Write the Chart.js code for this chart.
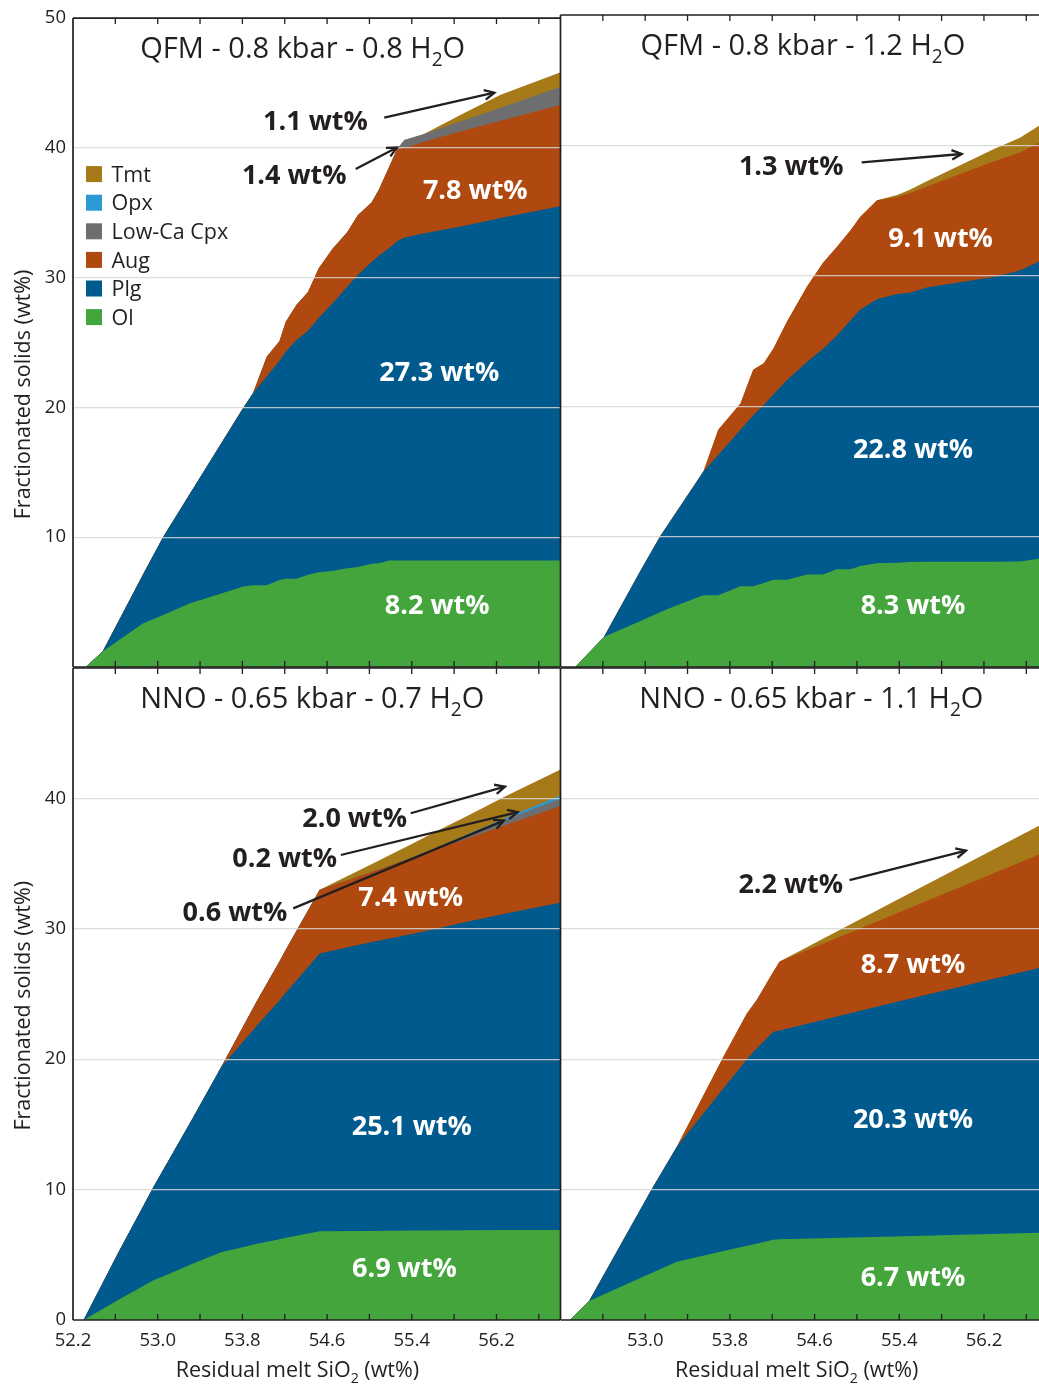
<!DOCTYPE html>
<html lang="en">
<head>
<meta charset="utf-8">
<title>Fractionated solids vs residual melt SiO2</title>
<script src="https://cdn.jsdelivr.net/npm/chart.js@4.4.1/dist/chart.umd.min.js"></script>
<style>
  html, body { margin: 0; padding: 0; background: #fff; }
  #figure { position: relative; width: 1039px; height: 1387px; overflow: hidden; background: #fff; }
  #figure canvas { position: absolute; left: 0; top: 0; }
</style>
</head>
<body>
<div id="figure">
  <canvas id="qfm08" width="1039" height="1387"></canvas>
  <canvas id="qfm12" width="1039" height="1387"></canvas>
  <canvas id="nno07" width="1039" height="1387"></canvas>
  <canvas id="nno11" width="1039" height="1387"></canvas>
</div>
<script>
// Fractionated phases (wt%) against residual melt SiO2 (wt%) for four runs.
// Each phase array holds the amount of that phase at the matching SiO2 step;
// the phases are stacked Ol -> Plg -> Aug -> Low-Ca Cpx -> Opx -> Tmt.

// QFM - 0.8 kbar - 0.8 H2O
const qfm08Sio2     = [52.32, 52.48, 52.86, 53.05, 53.30, 53.81, 53.90, 54.03, 54.15, 54.21, 54.31, 54.42, 54.52, 54.65, 54.79, 54.89, 55.02, 55.09, 55.19, 55.26, 55.33, 55.51, 55.90, 56.24, 56.80];
const qfm08Ol       = [0, 1.2, 3.35, 4.0, 4.9, 6.2, 6.3, 6.3, 6.7, 6.8, 6.8, 7.1, 7.3, 7.4, 7.6, 7.7, 7.95, 8.0, 8.2, 8.2, 8.2, 8.2, 8.2, 8.2, 8.2];
const qfm08Plg      = [0, 0, 3.75, 6.0, 8.4, 13.8, 14.8, 16.1, 16.9, 17.5, 18.4, 18.8, 19.6, 20.6, 21.7, 22.5, 23.25, 23.7, 24.1, 24.6, 24.9, 25.2, 25.8, 26.4, 27.3];
const qfm08Aug      = [0, 0, 0, 0, 0, 0, 0, 1.5, 1.5, 2.3, 2.7, 3.0, 3.8, 4.2, 4.2, 4.6, 4.6, 5.1, 6.3, 7.1, 6.9, 7.05, 7.35, 7.5, 7.8];
const qfm08LowCaCpx = [0, 0, 0, 0, 0, 0, 0, 0, 0, 0, 0, 0, 0, 0, 0, 0, 0, 0, 0, 0, 0.6, 0.6, 0.8, 1.0, 1.4];
const qfm08Tmt      = [0, 0, 0, 0, 0, 0, 0, 0, 0, 0, 0, 0, 0, 0, 0, 0, 0, 0, 0, 0, 0, 0, 0.55, 1.0, 1.1];

// QFM - 0.8 kbar - 1.2 H2O
const qfm12Sio2 = [52.34, 52.61, 52.95, 53.14, 53.23, 53.55, 53.69, 53.90, 54.02, 54.12, 54.21, 54.34, 54.53, 54.68, 54.81, 54.94, 55.03, 55.19, 55.38, 55.50, 55.66, 56.29, 56.54, 56.72];
const qfm12Ol   = [0, 2.3, 3.5, 4.2, 4.5, 5.5, 5.5, 6.2, 6.2, 6.45, 6.7, 6.7, 7.1, 7.1, 7.5, 7.5, 7.75, 7.95, 8.0, 8.05, 8.07, 8.07, 8.1, 8.3];
const qfm12Plg  = [0, 0, 3.8, 5.8, 6.6, 9.5, 10.75, 12.0, 13.1, 13.65, 14.2, 15.3, 16.3, 17.3, 17.9, 19.1, 19.65, 20.25, 20.6, 20.65, 21.03, 21.83, 22.3, 22.8];
const qfm12Aug  = [0, 0, 0, 0, 0, 0, 1.95, 2.0, 3.5, 3.2, 3.5, 4.5, 5.8, 6.6, 6.8, 6.9, 7.1, 7.6, 7.44, 7.64, 7.75, 8.87, 9.05, 9.1];
const qfm12Tmt  = [0, 0, 0, 0, 0, 0, 0, 0, 0, 0, 0, 0, 0, 0, 0, 0, 0, 0, 0.16, 0.26, 0.4, 0.93, 1.14, 1.3];

// NNO - 0.65 kbar - 0.7 H2O
const nno07Sio2     = [52.30, 52.63, 52.96, 53.10, 53.34, 53.60, 53.94, 54.15, 54.21, 54.53, 55.00, 55.40, 55.60, 55.90, 56.30, 56.80];
const nno07Ol       = [0, 1.55, 3.05, 3.5, 4.35, 5.2, 5.85, 6.2, 6.3, 6.8, 6.83, 6.86, 6.87, 6.88, 6.9, 6.9];
const nno07Plg      = [0, 3.65, 7.15, 8.7, 11.25, 14.2, 16.75, 18.3, 18.8, 21.3, 22.12, 22.74, 23.08, 23.62, 24.3, 25.1];
const nno07Aug      = [0, 0, 0, 0, 0, 0, 1.9, 3.0, 3.3, 4.9, 5.35, 5.85, 6.05, 6.35, 6.8, 7.4];
const nno07LowCaCpx = [0, 0, 0, 0, 0, 0, 0, 0, 0, 0, 0, 0, 0.1, 0.25, 0.42, 0.6];
const nno07Opx      = [0, 0, 0, 0, 0, 0, 0, 0, 0, 0, 0, 0, 0, 0.06, 0.13, 0.2];
const nno07Tmt      = [0, 0, 0, 0, 0, 0, 0, 0, 0, 0, 0.58, 1.05, 1.25, 1.39, 1.67, 2.0];

// NNO - 0.65 kbar - 1.1 H2O
const nno11Sio2 = [52.29, 52.47, 53.06, 53.30, 53.74, 53.96, 54.05, 54.21, 54.27, 55.35, 56.72];
const nno11Ol   = [0, 1.45, 3.6, 4.47, 5.3, 5.7, 5.85, 6.15, 6.2, 6.4, 6.7];
const nno11Plg  = [0, 0, 6.4, 8.83, 12.47, 14.3, 14.95, 15.95, 16.0, 17.95, 20.3];
const nno11Aug  = [0, 0, 0, 0, 2.43, 3.5, 3.7, 4.6, 5.3, 6.75, 8.7];
const nno11Tmt  = [0, 0, 0, 0, 0, 0, 0, 0, 0, 1.0, 2.2];

// Axis ticks
const sio2Ticks       = [52.2, 52.6, 53.0, 53.4, 53.8, 54.2, 54.6, 55.0, 55.4, 55.8, 56.2, 56.6];
const sio2LabelsLeft  = ['52.2', '53.0', '53.8', '54.6', '55.4', '56.2'];
const sio2LabelsRight = ['53.0', '53.8', '54.6', '55.4', '56.2'];
const solidsLabelsUpper = [10, 20, 30, 40, 50];
const solidsLabelsLower = [0, 10, 20, 30, 40];

// ---- styling ----
const INK = '#231f20';
const GRID = 'rgba(215,215,215,0.85)';
const FONT = '"Open Sans", "Noto Sans", sans-serif';
const PAGE_W = 1039, PAGE_H = 1387;
const phaseColor = {
  'Ol': '#45a53d',
  'Plg': '#015a8e',
  'Aug': '#b0490f',
  'Low-Ca Cpx': '#6d6e70',
  'Opx': '#2b9ad5',
  'Tmt': '#a67a18'
};
const legendOrder = ['Tmt', 'Opx', 'Low-Ca Cpx', 'Aug', 'Plg', 'Ol'];

const panels = [
  {
    canvas: 'qfm08', title: 'QFM - 0.8 kbar - 0.8 H{2}O', titleAt: 54.37,
    sio2: qfm08Sio2,
    layers: [['Ol', qfm08Ol], ['Plg', qfm08Plg], ['Aug', qfm08Aug], ['Low-Ca Cpx', qfm08LowCaCpx], ['Tmt', qfm08Tmt]],
    frame: { l: 73, t: 15, r: 560, b: 667 }, xMax: 56.8,
    yLabels: solidsLabelsUpper, xLabels: [], yTitleAt: 21.0, xTitleAt: null, legend: true,
    notes: [
      { phase: 'Plg', x: 55.66, y: 22.8 },
      { phase: 'Ol', x: 55.64, y: 4.83 },
      { phase: 'Aug', x: 56.0, y: 36.83 },
      { phase: 'Tmt', x: 54.49, y: 42.14, dark: true, arrow: [55.14, 42.33, 56.18, 44.25] },
      { phase: 'Low-Ca Cpx', x: 54.29, y: 37.96, dark: true, arrow: [54.87, 38.37, 55.26, 40.03] }
    ]
  },
  {
    canvas: 'qfm12', title: 'QFM - 0.8 kbar - 1.2 H{2}O', titleAt: 54.49,
    sio2: qfm12Sio2,
    layers: [['Ol', qfm12Ol], ['Plg', qfm12Plg], ['Aug', qfm12Aug], ['Tmt', qfm12Tmt]],
    frame: { l: 560.5, t: 15, r: 1039, b: 667 }, xMax: 56.72,
    yLabels: [], xLabels: [], yTitleAt: null, xTitleAt: null, legend: false,
    notes: [
      { phase: 'Aug', x: 55.79, y: 32.98 },
      { phase: 'Plg', x: 55.53, y: 16.73 },
      { phase: 'Ol', x: 55.53, y: 4.79 },
      { phase: 'Tmt', x: 54.38, y: 38.5, dark: true, arrow: [55.045, 38.7, 55.99, 39.34] }
    ]
  },
  {
    canvas: 'nno07', title: 'NNO - 0.65 kbar - 0.7 H{2}O', titleAt: 54.46,
    sio2: nno07Sio2,
    layers: [['Ol', nno07Ol], ['Plg', nno07Plg], ['Aug', nno07Aug], ['Low-Ca Cpx', nno07LowCaCpx], ['Opx', nno07Opx], ['Tmt', nno07Tmt]],
    frame: { l: 73, t: 668, r: 560, b: 1320 }, xMax: 56.8,
    yLabels: solidsLabelsLower, xLabels: sio2LabelsLeft, yTitleAt: 24.1, xTitleAt: 54.32, legend: false,
    notes: [
      { phase: 'Aug', x: 55.39, y: 32.46 },
      { phase: 'Plg', x: 55.40, y: 14.95 },
      { phase: 'Ol', x: 55.33, y: 4.03 },
      { phase: 'Tmt', x: 54.86, y: 38.53, dark: true, arrow: [55.39, 38.86, 56.28, 40.9] },
      { phase: 'Opx', x: 54.20, y: 35.47, dark: true, arrow: [54.73, 35.66, 56.40, 38.95] },
      { phase: 'Low-Ca Cpx', x: 53.73, y: 31.31, dark: true, arrow: [54.28, 31.57, 56.27, 38.3] }
    ]
  },
  {
    canvas: 'nno11', title: 'NNO - 0.65 kbar - 1.1 H{2}O', titleAt: 54.57,
    sio2: nno11Sio2,
    layers: [['Ol', nno11Ol], ['Plg', nno11Plg], ['Aug', nno11Aug], ['Tmt', nno11Tmt]],
    frame: { l: 560.5, t: 668, r: 1039, b: 1320 }, xMax: 56.72,
    yLabels: [], xLabels: sio2LabelsRight, yTitleAt: null, xTitleAt: 54.43, legend: false,
    notes: [
      { phase: 'Aug', x: 55.53, y: 27.35 },
      { phase: 'Plg', x: 55.53, y: 15.47 },
      { phase: 'Ol', x: 55.53, y: 3.36 },
      { phase: 'Tmt', x: 54.375, y: 33.49, dark: true, arrow: [54.93, 33.74, 56.03, 35.99] }
    ]
  }
];

function lastWt(values) {
  return values[values.length - 1].toFixed(1) + ' wt%';
}

// Text with {..} segments drawn as subscripts.
function drawRich(ctx, text, x, y, size, weight, align) {
  const parts = text.split(/(\{[^}]*\})/).filter(Boolean).map(p =>
    p.charAt(0) === '{' ? { t: p.slice(1, -1), sub: true } : { t: p, sub: false });
  const fontFor = sub => `${weight} ${sub ? size * 0.66 : size}px ${FONT}`;
  let w = 0;
  parts.forEach(p => { ctx.font = fontFor(p.sub); p.w = ctx.measureText(p.t).width; w += p.w; });
  let cx = align === 'center' ? x - w / 2 : x;
  ctx.textAlign = 'left';
  ctx.textBaseline = 'alphabetic';
  parts.forEach(p => {
    ctx.font = fontFor(p.sub);
    ctx.fillText(p.t, cx, y + (p.sub ? size * 0.28 : 0));
    cx += p.w;
  });
}

function drawArrow(ctx, x1, y1, x2, y2) {
  ctx.beginPath();
  ctx.moveTo(x1, y1);
  ctx.lineTo(x2, y2);
  ctx.stroke();
  const ang = Math.atan2(y2 - y1, x2 - x1), len = 11, spread = 0.45;
  ctx.beginPath();
  ctx.moveTo(x2 - len * Math.cos(ang - spread), y2 - len * Math.sin(ang - spread));
  ctx.lineTo(x2, y2);
  ctx.lineTo(x2 - len * Math.cos(ang + spread), y2 - len * Math.sin(ang + spread));
  ctx.stroke();
}

// Frame, inward tick marks, titles, value callouts and the phase key.
function panelDecor(panel) {
  return {
    id: 'panelDecor',
    afterDraw(chart) {
      const { ctx, chartArea: a, scales: { x, y } } = chart;
      const px = v => x.getPixelForValue(v);
      const py = v => y.getPixelForValue(v);
      ctx.save();

      ctx.strokeStyle = INK;
      ctx.lineWidth = 1.7;
      ctx.beginPath();
      ctx.moveTo(a.left, a.top); ctx.lineTo(a.left, a.bottom);
      ctx.moveTo(a.left, a.top); ctx.lineTo(a.right, a.top);
      ctx.moveTo(a.left, a.bottom); ctx.lineTo(a.right, a.bottom);
      ctx.stroke();

      ctx.lineWidth = 1.3;
      ctx.beginPath();
      x.ticks.forEach(t => {
        const p = px(t.value);
        if (p < a.left + 2 || p > a.right - 1) return;
        ctx.moveTo(p, a.top); ctx.lineTo(p, a.top + 6);
        ctx.moveTo(p, a.bottom); ctx.lineTo(p, a.bottom - 6);
      });
      ctx.stroke();

      ctx.fillStyle = INK;
      drawRich(ctx, panel.title, px(panel.titleAt), a.top + 40, 29, 400, 'center');

      panel.notes.forEach(n => {
        const values = panel.layers.find(l => l[0] === n.phase)[1];
        ctx.font = `700 27px ${FONT}`;
        ctx.textAlign = 'center';
        ctx.textBaseline = 'alphabetic';
        ctx.fillStyle = n.dark ? INK : '#ffffff';
        ctx.fillText(lastWt(values), px(n.x), py(n.y) + 9.6);
        if (n.arrow) {
          ctx.strokeStyle = INK;
          ctx.lineWidth = 2.3;
          ctx.lineJoin = 'miter';
          drawArrow(ctx, px(n.arrow[0]), py(n.arrow[1]), px(n.arrow[2]), py(n.arrow[3]));
        }
      });

      if (panel.legend) {
        legendOrder.forEach((name, i) => {
          const top = a.top + 148 + i * 28.6;
          ctx.fillStyle = phaseColor[name];
          ctx.fillRect(a.left + 13, top, 16, 16);
          ctx.fillStyle = INK;
          ctx.font = `400 21.5px ${FONT}`;
          ctx.textAlign = 'left';
          ctx.textBaseline = 'alphabetic';
          ctx.fillText(name, a.left + 38.5, top + 8 + 7.6);
        });
      }

      ctx.fillStyle = INK;
      if (panel.yTitleAt !== null) {
        ctx.save();
        ctx.translate(30, py(panel.yTitleAt));
        ctx.rotate(-Math.PI / 2);
        ctx.font = `400 21.5px ${FONT}`;
        ctx.textAlign = 'center';
        ctx.textBaseline = 'alphabetic';
        ctx.fillText('Fractionated solids (wt%)', 0, 0);
        ctx.restore();
      }
      if (panel.xTitleAt !== null) {
        drawRich(ctx, 'Residual melt SiO{2} (wt%)', px(panel.xTitleAt), a.bottom + 57, 21.5, 400, 'center');
      }
      ctx.restore();
    }
  };
}

function build(panel) {
  const f = panel.frame;
  const yW = panel.yLabels.length ? 73 : 0;
  const xH = panel.xLabels.length ? 40 : 0;
  const datasets = panel.layers.map(([name, values]) => ({
    label: name,
    data: panel.sio2.map((s, i) => ({ x: s, y: values[i] })),
    backgroundColor: phaseColor[name],
    borderColor: phaseColor[name],
    borderWidth: 0,
    pointRadius: 0,
    pointHoverRadius: 0,
    tension: 0,
    fill: 'origin'
  }));

  new Chart(document.getElementById(panel.canvas), {
    type: 'line',
    data: { datasets },
    options: {
      responsive: false,
      animation: false,
      events: [],
      layout: { padding: { left: f.l - yW, top: f.t, right: PAGE_W - f.r, bottom: PAGE_H - f.b - xH } },
      plugins: { legend: { display: false }, tooltip: { enabled: false } },
      scales: {
        x: {
          type: 'linear',
          min: 52.2,
          max: panel.xMax,
          afterBuildTicks: s => { s.ticks = sio2Ticks.filter(v => v < panel.xMax - 1e-9).map(v => ({ value: v })); },
          afterFit: s => { s.height = xH; },
          grid: { display: false },
          border: { display: false },
          ticks: {
            display: panel.xLabels.length > 0,
            autoSkip: false,
            maxRotation: 0,
            padding: 2,
            color: INK,
            font: { family: FONT, size: 18.5 },
            callback: v => { const s = Number(v).toFixed(1); return panel.xLabels.includes(s) ? s : ''; }
          }
        },
        y: {
          stacked: true,
          min: 0,
          max: 50,
          afterFit: s => { s.width = yW; },
          grid: {
            z: 1,
            drawTicks: false,
            lineWidth: 1.3,
            color: c => (c.tick && c.tick.value > 0 && c.tick.value < 50) ? GRID : 'rgba(0,0,0,0)'
          },
          border: { display: false },
          ticks: {
            stepSize: 10,
            display: panel.yLabels.length > 0,
            padding: 7,
            color: INK,
            font: { family: FONT, size: 18.5 },
            callback: v => panel.yLabels.includes(v) ? String(v) : ''
          }
        }
      }
    },
    plugins: [panelDecor(panel)]
  });
}

const fontsReady = document.fonts
  ? Promise.all([
      document.fonts.load(`400 29px "Open Sans"`),
      document.fonts.load(`700 27px "Open Sans"`)
    ])
  : Promise.resolve();
fontsReady.catch(() => {}).then(() => panels.forEach(build));
</script>
</body>
</html>
